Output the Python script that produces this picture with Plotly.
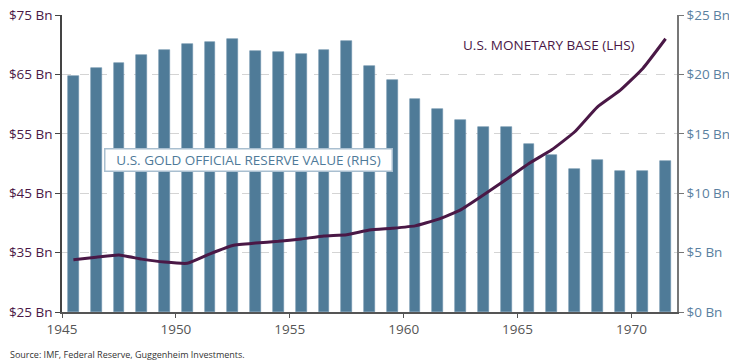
import plotly.graph_objects as go

years = list(range(1945, 1972))
gold_reserve_bn = [19.9, 20.5, 21.0, 21.6, 22.05, 22.6, 22.7, 22.95, 22.0, 21.85, 21.75, 22.05,
                   22.8, 20.7, 19.5, 17.9, 17.05, 16.15, 15.6, 15.55, 14.1, 13.25, 12.05, 12.8,
                   11.9, 11.85, 12.75]
monetary_base_bn = [33.8, 34.2, 34.6, 33.9, 33.4, 33.2, 34.8, 36.2, 36.6, 36.9, 37.3, 37.8,
                    38.0, 38.8, 39.1, 39.5, 40.6, 42.2, 44.7, 47.3, 50.0, 52.3, 55.3, 59.5,
                    62.3, 66.0, 71.0]
left_ticks = [25, 35, 45, 55, 65, 75]
left_labels = ["$25 Bn", "$35 Bn", "$45 Bn", "$55 Bn", "$65 Bn", "$75 Bn"]
right_ticks = [0, 5, 10, 15, 20, 25]
right_labels = ["$0 Bn", "$5 Bn", "$10 Bn", "$15 Bn", "$20 Bn", "$25 Bn"]
x_ticks = [1945, 1950, 1955, 1960, 1965, 1970]

xpos = [y + 0.5 for y in years]

FONT = "Open Sans"
PURPLE = "#4a1846"
BLUE = "#4f7b98"

W, H = 729, 363
L, R, T, B = 62, 52, 15, 51
PW, PH = W - L - R, H - T - B

fig = go.Figure()
fig.add_trace(go.Bar(x=xpos, y=gold_reserve_bn, yaxis="y", width=0.47,
                     marker=dict(color=BLUE, line=dict(color="#6a91ab", width=0.6)),
                     showlegend=False))
fig.add_trace(go.Scatter(x=xpos, y=monetary_base_bn, yaxis="y2", mode="lines",
                         line=dict(color=PURPLE, width=3, shape="spline", smoothing=0.4),
                         showlegend=False))

fig.update_layout(
    width=W, height=H,
    margin=dict(l=L, r=R, t=T, b=B, autoexpand=False),
    paper_bgcolor="white", plot_bgcolor="white",
    font=dict(family=FONT, size=13),
    bargap=0,
    xaxis=dict(range=[1945, 1972], tickvals=x_ticks, ticktext=[str(t) for t in x_ticks],
               ticks="outside", ticklen=4, tickcolor="#555", showgrid=False, zeroline=False,
               showline=True, linecolor="#555", linewidth=1.5, ticklabeloverflow="allow",
               tickfont=dict(color="#555555", size=13.5, family=FONT)),
    yaxis=dict(side="right", range=[0, 25], tickvals=right_ticks, ticktext=right_labels,
               ticks="outside", ticklen=5, tickcolor="#777", showline=True, linecolor="#777",
               linewidth=1.5, zeroline=False, ticklabeloverflow="allow",
               showgrid=True, gridcolor="#d4d4d4", griddash="dash", gridwidth=1,
               tickfont=dict(color="#5a7fa0", size=13.5, family=FONT)),
    yaxis2=dict(side="left", overlaying="y", range=[25, 75], tickvals=left_ticks,
                ticktext=left_labels, ticks="outside", ticklen=5, tickcolor="#444",
                showline=True, linecolor="#444", linewidth=1.5, showgrid=False, zeroline=False,
                ticklabeloverflow="allow",
                tickfont=dict(color=PURPLE, size=13.5, family=FONT)),
    annotations=[
        dict(text="U.S. MONETARY BASE (LHS)", x=1966.4, y=70.0, xref="x", yref="y2",
             showarrow=False, font=dict(color=PURPLE, size=13.5, family=FONT)),
        dict(text="U.S. GOLD OFFICIAL RESERVE VALUE (RHS)", x=1953.17, y=50.6, xref="x", yref="y2",
             showarrow=False, font=dict(color="#4f7a99", size=13.5, family=FONT),
             bgcolor="white", bordercolor="#a9bfd0", borderwidth=1.5, borderpad=2,
             width=282, height=17),
        dict(text="Source: IMF, Federal Reserve, Guggenheim Investments.",
             x=-(L - 8) / PW, y=(PH - (354 - T)) / PH, xref="paper", yref="paper",
             xanchor="left", yanchor="middle",
             showarrow=False, font=dict(color="#333333", size=9, family=FONT)),
    ],
)

fig.write_html("out.html", config={"displayModeBar": False},
               post_script="document.body.style.margin='0';document.body.style.overflow='hidden';")
